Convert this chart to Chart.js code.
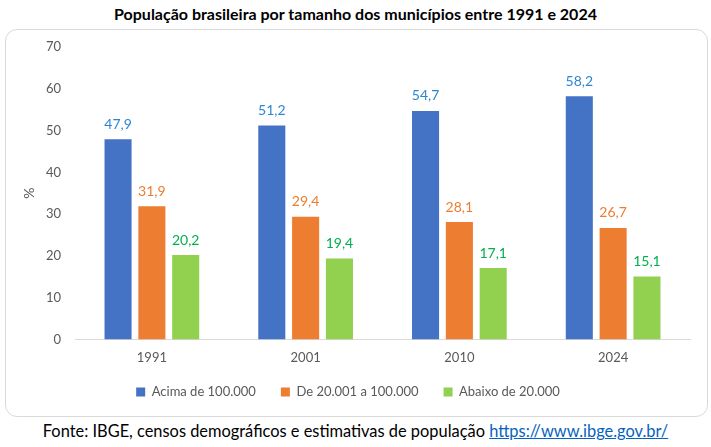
<!DOCTYPE html>
<html>
<head>
<meta charset="utf-8">
<script src="https://cdn.jsdelivr.net/npm/chart.js@4/dist/chart.umd.min.js"></script>
<style>
    body { margin: 0; width: 711px; height: 447px; background: #fff; font-family: Lato, "Open Sans", sans-serif; position: relative; overflow: hidden; }
    .title { position: absolute; left: 0; top: 4px; width: 711px; text-align: center; font-weight: bold; font-size: 16px; color: #000; }
    .box { position: absolute; left: 5px; top: 29px; width: 701px; height: 386px; border: 1px solid #d9d9d9; border-radius: 12px; }
    .source { position: absolute; left: 0; top: 421px; width: 711px; text-align: center; font-size: 16.4px; color: #000; }
    .source a { color: #0563C1; }
</style>
</head>
<body>
<div class="title">População brasileira por tamanho dos municípios entre 1991 e 2024</div>
<div class="box"><canvas id="chart" width="701" height="386"></canvas></div>
<div class="source">Fonte: IBGE, censos demográficos e estimativas de população <a href="https://www.ibge.gov.br/">https://www.ibge.gov.br/</a></div>
<script>
const years = ['1991', '2001', '2010', '2024'];
const seriesNames = ['Acima de 100.000', 'De 20.001 a 100.000', 'Abaixo de 20.000'];
const acima100mil = [47.9, 51.2, 54.7, 58.2];
const de20a100mil = [31.9, 29.4, 28.1, 26.7];
const abaixo20mil = [20.2, 19.4, 17.1, 15.1];
const yTicks = [0, 10, 20, 30, 40, 50, 60, 70];

const barColors = ['#4472C4', '#ED7D31', '#92D050'];
const labelColors = ['#2E86D1', '#ED7D31', '#00B050'];
const legendShift = 7;

// values written over each bar, taken from the bar elements
const valueLabels = {
    id: 'valueLabels',
    afterDatasetsDraw(chart) {
        const ctx = chart.ctx;
        ctx.save();
        ctx.font = '14px Lato, sans-serif';
        ctx.textAlign = 'center';
        ctx.textBaseline = 'bottom';
        chart.data.datasets.forEach((ds, i) => {
            const meta = chart.getDatasetMeta(i);
            meta.data.forEach((bar, j) => {
                ctx.fillStyle = labelColors[i];
                ctx.fillText(ds.data[j].toFixed(1).replace('.', ','), bar.x, bar.y - 8);
            });
        });
        ctx.restore();
    }
};

// legend padding is wide between items, so pull the box up a little
const tightLegend = {
    id: 'tightLegend',
    beforeLayout(chart) {
        const legend = chart.legend;
        if(legend && !legend._tight) {
            const fit = legend.fit;
            legend.fit = function() {
                fit.call(this);
                this.height -= legendShift;
            };
            legend._tight = true;
        }
    },
    afterLayout(chart) {
        if(chart.legend) {
            chart.legend.top -= legendShift;
        }
    }
};

const canvas = document.getElementById('chart');
if(canvas != undefined) {
    new Chart(canvas, {
        type: 'bar',
        data: {
            labels: years,
            datasets: [acima100mil, de20a100mil, abaixo20mil].map((vals, i) => ({
                label: seriesNames[i],
                data: vals,
                backgroundColor: barColors[i],
                barPercentage: 0.8,
                categoryPercentage: 0.66
            }))
        },
        options: {
            responsive: false,
            animation: false,
            layout: { padding: { left: 0, right: 17, top: 17, bottom: 7.5 } },
            scales: {
                x: {
                    grid: { display: false },
                    border: { color: '#d9d9d9', width: 1 },
                    ticks: { color: '#595959', font: { size: 13, family: 'Lato' }, padding: 3 },
                    afterFit: axis => { axis.height = 28; }
                },
                y: {
                    min: 0,
                    max: 70,
                    afterBuildTicks: axis => { axis.ticks = yTicks.map(v => ({ value: v })); },
                    afterFit: axis => { axis.width = 69; },
                    grid: { display: false },
                    border: { display: false },
                    ticks: { color: '#595959', font: { size: 13, family: 'Lato' }, padding: 6 },
                    title: { display: true, text: '%', color: '#595959', font: { size: 14, family: 'Lato' }, padding: { top: 15, bottom: 0 } }
                }
            },
            plugins: {
                legend: {
                    position: 'bottom',
                    labels: { boxWidth: 9, boxHeight: 9, color: '#595959', font: { size: 13, family: 'Lato' }, padding: 25 }
                },
                tooltip: { enabled: false }
            }
        },
        plugins: [valueLabels, tightLegend]
    });
}
</script>
</body>
</html>
